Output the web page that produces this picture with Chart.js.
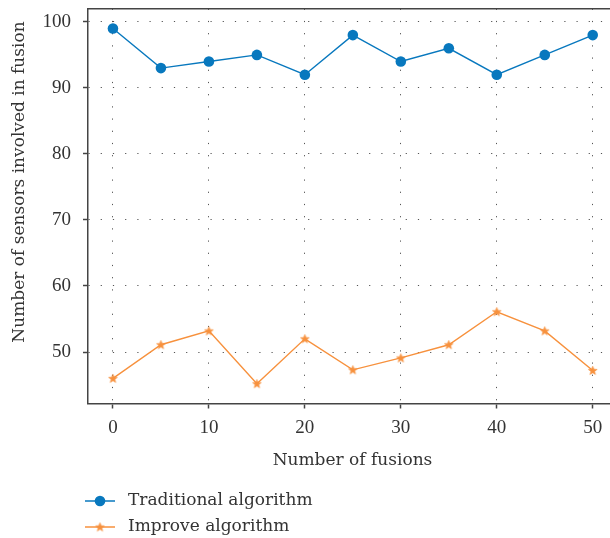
<!DOCTYPE html>
<html><head><meta charset="utf-8">
<script src="https://cdn.jsdelivr.net/npm/chart.js@4/dist/chart.umd.min.js"></script>
<style>html,body{margin:0;padding:0;background:#fff;overflow:hidden}#wrap{width:610px;height:538px;position:relative;overflow:hidden}canvas{display:block}</style>
</head><body><div id="wrap"><canvas id="c"></canvas></div>
<script>
const fusions = [0,5,10,15,20,25,30,35,40,45,50];
const traditional = [99,93,94,95,92,98,94,96,92,95,98];
const improved = [46,51.1,53.2,45.2,52,47.3,49.1,51.1,56.1,53.2,47.2];
const xTicks = [0,10,20,30,40,50];
const yTicks = [50,60,70,80,90,100];
const seriesNames = ['Traditional algorithm','Improve algorithm'];
const xTitle = 'Number of fusions';
const yTitle = 'Number of sensors involved in fusion';
const BLUE = '#0878be', ORANGE = '#f7913d', TXT = '#333';
const TICKFONT = "'Liberation Serif', serif";
const TEXTFONT = "'DejaVu Serif', serif";

function makeStar(color){
  const c = document.createElement('canvas'); c.width = 11; c.height = 11;
  const g = c.getContext('2d');
  g.beginPath();
  for (let k=0;k<10;k++){
    const r = k%2===0 ? 4.6 : 2.0;
    const ang = -Math.PI/2 + k*Math.PI/5;
    const px = 5.5 + r*Math.cos(ang), py = 5.8 + r*Math.sin(ang);
    k===0 ? g.moveTo(px,py) : g.lineTo(px,py);
  }
  g.closePath(); g.fillStyle = color; g.fill();
  g.lineWidth = 0.6; g.strokeStyle = color; g.stroke();
  return c;
}
const starImg = makeStar(ORANGE);

const frame = {
  id:'frame',
  afterDraw(chart){
    const {ctx, chartArea:a} = chart;
    ctx.save();
    ctx.strokeStyle = '#444'; ctx.lineWidth = 1.5;
    ctx.beginPath(); ctx.moveTo(a.left, a.top); ctx.lineTo(a.right, a.top); ctx.stroke();
    ctx.fillStyle = TXT;
    ctx.font = "17px " + TEXTFONT; ctx.textBaseline = 'middle';
    ctx.textAlign = 'center';
    ctx.fillText(xTitle, 352.5, 461);
    ctx.save(); ctx.translate(20, 182); ctx.rotate(-Math.PI/2); ctx.fillText(yTitle, 0, 0); ctx.restore();
    ctx.textAlign='left';
    const ys = [501, 527];
    chart.data.datasets.forEach((ds,i)=>{
      const y = ys[i];
      ctx.strokeStyle = ds.borderColor; ctx.lineWidth = 1.5;
      ctx.beginPath(); ctx.moveTo(85,y); ctx.lineTo(115,y); ctx.stroke();
      if (ds.pointStyle==='circle'){ ctx.fillStyle = ds.borderColor; ctx.beginPath(); ctx.arc(100,y,ds.pointRadius,0,Math.PI*2); ctx.fill(); }
      else { ctx.drawImage(ds.pointStyle, 100-5.5, y-5.5); }
      ctx.fillStyle = TXT; ctx.fillText(ds.label, 128, y);
    });
    ctx.restore();
  }
};

const gridCfg = {color:'#555', lineWidth:1, drawTicks:true, tickLength:5, tickColor:'#444', tickWidth:1.5};
const borderCfg = {display:true, color:'#444', width:1.5, dash:[1.2,11]};

const chart = new Chart(document.getElementById('c'), {
  type:'line',
  data:{
    datasets:[
      {label:seriesNames[0], data:fusions.map((x,i)=>({x, y:traditional[i]})), borderColor:BLUE, backgroundColor:BLUE,
       borderWidth:1.4, pointRadius:5.3, pointHoverRadius:5.3, pointStyle:'circle', pointBorderWidth:0},
      {label:seriesNames[1], data:fusions.map((x,i)=>({x, y:improved[i]})), borderColor:ORANGE, backgroundColor:ORANGE,
       borderWidth:1.4, pointRadius:5, pointHoverRadius:5, pointStyle:starImg, pointBorderWidth:0}
    ]
  },
  options:{
    responsive:true, maintainAspectRatio:false, animation:false,
    layout:{autoPadding:false, padding:{top:8.7, right:0, bottom:0, left:0}},
    plugins:{legend:{display:false}, tooltip:{enabled:false}},
    scales:{
      x:{type:'linear', min:-2.6, max:51.8,
        afterBuildTicks(s){ s.ticks = xTicks.map(v=>({value:v})); },
        afterFit(s){ s.height = 134.5; s.paddingLeft = 0; s.paddingRight = 0; },
        grid:gridCfg, border:borderCfg,
        ticks:{color:TXT, font:{family:TICKFONT, size:19}, padding:8, maxRotation:0}
      },
      y:{type:'linear', min:42.2, max:102,
        afterBuildTicks(s){ s.ticks = yTicks.map(v=>({value:v})); },
        afterFit(s){ s.width = 88; s.paddingTop = 0; s.paddingBottom = 0; },
        grid:gridCfg, border:borderCfg,
        ticks:{color:TXT, font:{family:TICKFONT, size:19}, padding:12}
      }
    }
  },
  plugins:[frame]
});
</script></body></html>
